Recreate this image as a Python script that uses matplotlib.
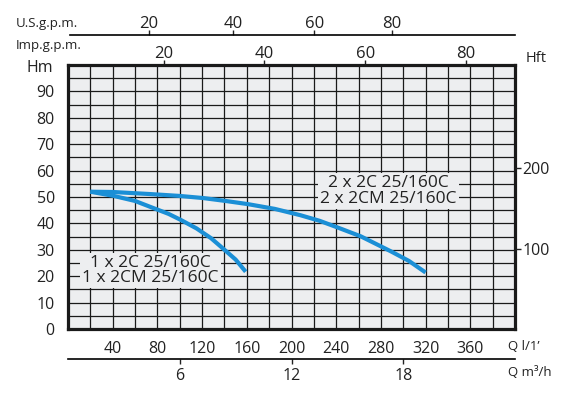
import matplotlib
matplotlib.use("Agg")
import matplotlib.pyplot as plt
import numpy as np

plt.rcParams['font.family'] = ['Open Sans', 'DejaVu Sans']

# pump curves, Q in l/min, H in m
q_single = [20, 41, 60, 74, 90, 101, 115, 128, 139.5, 150, 159]
h_single = [52, 50.4, 48.5, 46.2, 43.6, 41.3, 38.1, 34.4, 30.2, 26.3, 21.7]
q_double = [20, 40, 74, 100, 121, 141, 161, 185, 208, 225, 241, 262, 289, 305, 320]
h_double = [52, 51.9, 51.1, 50.4, 49.6, 48.5, 47.3, 45.5, 43.1, 41.0, 38.5, 35.1, 29.4, 25.8, 21.4]

label_single = "1 x 2C 25/160C\n1 x 2CM 25/160C"
label_double = "2 x 2C 25/160C\n2 x 2CM 25/160C"

# auxiliary scales (tick positions, in l/min)
us_gpm = [20, 40, 60, 80]
us_gpm_q = [69.6, 145.8, 219, 288.6]
imp_gpm = [20, 40, 60, 80]
imp_gpm_q = [86, 175.6, 266, 355.8]
m3h = [6, 12, 18]
hft = [100, 200]

BG = '#edeef0'
BLUE = '#1b8fd6'
INK = '#222222'
W, H = 581, 398

fig = plt.figure(figsize=(W / 100, H / 100), dpi=100)

def box(x0, y0, x1, y1):
    return [x0 / W, 1 - y1 / H, (x1 - x0) / W, (y1 - y0) / H]

ax = fig.add_axes(box(68, 65, 515, 329))
ax.set_facecolor(BG)
ax.set_xlim(0, 400)
ax.set_ylim(0, 100)
ax.set_xticks(np.arange(40, 361, 40))
ax.set_xticks(np.arange(0, 401, 20), minor=True)
ax.set_yticks(np.arange(0, 91, 10))
ax.set_yticks(np.arange(0, 101, 5), minor=True)
ax.grid(True, which='both', color='#1a1a1a', linewidth=0.9)
ax.set_axisbelow(True)
ax.tick_params(which='both', length=0, labelsize=11.5, colors=INK)
ax.tick_params(axis='x', pad=8.5)
ax.tick_params(axis='y', pad=9.5)
for s in ax.spines.values():
    s.set_linewidth(2.3)
    s.set_color('#1a1a1a')

ax.plot(q_single, h_single, color=BLUE, linewidth=3, solid_capstyle='butt', zorder=3)
ax.plot(q_double, h_double, color=BLUE, linewidth=3, solid_capstyle='butt', zorder=3)

ax.text(74, 22.1, label_single, ha='center', va='center', fontsize=12.5,
        linespacing=0.95, color=INK, zorder=4,
        bbox=dict(facecolor=BG, edgecolor='none', pad=1.5))
ax.text(287, 52.3, label_double, ha='center', va='center', fontsize=12.5,
        linespacing=0.95, color=INK, zorder=4,
        bbox=dict(facecolor=BG, edgecolor='none', pad=1.5))

# Imp.g.p.m. ticks on top of the frame
sec = ax.secondary_xaxis('top')
sec.set_xticks(imp_gpm_q, labels=[str(v) for v in imp_gpm])
sec.tick_params(direction='out', length=3.5, width=1, pad=-1, labelsize=12, colors=INK)
sec.spines['top'].set_visible(False)

# Hft on the right
axf = ax.twinx()
axf.set_ylim(0, 100 / 0.3048)
axf.set_yticks(hft)
axf.tick_params(direction='out', length=4, width=1, pad=1.5, labelsize=11.5, colors=INK)
for s in axf.spines.values():
    s.set_visible(False)

# U.S.g.p.m. line
axu = fig.add_axes(box(70, 35, 515, 35.01))
axu.set_xlim(-1.5, 400)
axu.set_yticks([])
axu.xaxis.tick_top()
axu.set_xticks(us_gpm_q, labels=[str(v) for v in us_gpm])
axu.tick_params(direction='out', length=3.5, width=1, pad=-1, labelsize=12, colors=INK)
for k in ['left', 'right', 'bottom']:
    axu.spines[k].set_visible(False)
axu.spines['top'].set_linewidth(1.2)
axu.patch.set_visible(False)

# m3/h line
axm = fig.add_axes(box(68, 359, 515, 359.01))
axm.set_xlim(0, 400 * 0.06)
axm.set_yticks([])
axm.set_xticks(m3h, labels=[str(v) for v in m3h])
axm.tick_params(direction='out', length=3.5, width=1, pad=3, labelsize=11.5, colors=INK)
for k in ['left', 'right', 'top']:
    axm.spines[k].set_visible(False)
axm.spines['bottom'].set_linewidth(1.2)
axm.patch.set_visible(False)

def ftext(x, y, s, size, ha='left'):
    fig.text(x / W, 1 - y / H, s, fontsize=size, ha=ha, va='center', color=INK)

ftext(16, 23, "U.S.g.p.m.", 9.5)
ftext(16, 45, "Imp.g.p.m.", 9.5)
ftext(26, 68, "Hm", 11.5)
ftext(526, 58, "Hft", 10.5)
ftext(508, 346, "Q l/1\u2019", 9.5)
ftext(508, 372, "Q m\u00b3/h", 9.5)

fig.savefig("out.png", dpi=100, facecolor='white')
